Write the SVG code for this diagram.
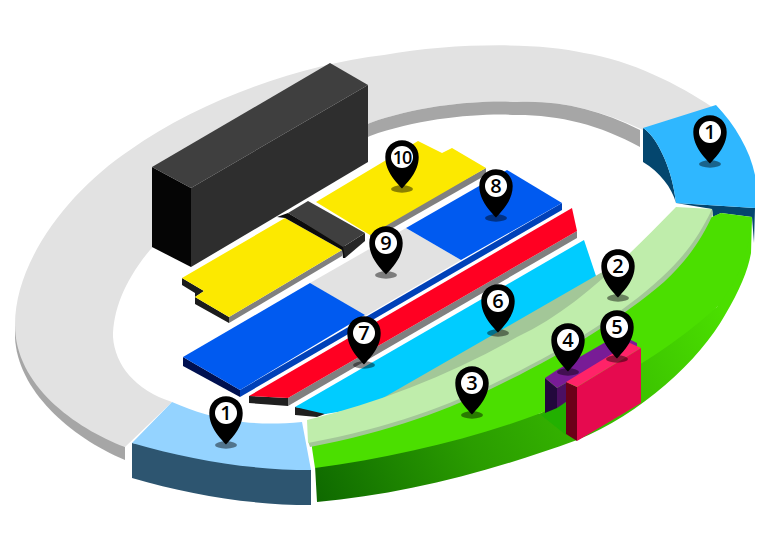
<svg xmlns="http://www.w3.org/2000/svg" width="768" height="555" viewBox="0 0 768 555">
<defs>
<linearGradient id="gs" gradientUnits="userSpaceOnUse" x1="320" y1="500" x2="720" y2="300"><stop offset="0" stop-color="#0f6a00"/><stop offset="0.35" stop-color="#2a9c00"/><stop offset="0.75" stop-color="#3cc400"/><stop offset="1" stop-color="#4bdf00"/></linearGradient>
<g id="pin"><ellipse cx="0" cy="32" rx="11" ry="3.7" fill="#000" fill-opacity="0.45"/><path d="M0,31.5 C-5,26 -16.7,15 -16.7,0 C-16.7,-10 -9,-16.7 0,-16.7 C9,-16.7 16.7,-10 16.7,0 C16.7,15 5,26 0,31.5 Z" fill="#000"/><circle r="11" fill="#fff"/></g>
</defs>
<style>
text{font-family:"Open Sans","Noto Sans","DejaVu Sans",sans-serif;font-weight:600;font-size:20px;text-anchor:middle;fill:#000}
</style>
<g id="ring">
<path d="M15,325 L15,337 C17,390 70,437 125,460 L125,447 Z" fill="#a6a6a6"/>
<path d="M125,447 C75,428 15,385 15,325 C15,260 70,190 130,150 C200,100 300,65 384,55 C450,43 540,42 584,53 C630,60 680,85 712,107 L643,130 C600,110 560,100 517,102 C480,100 420,105 370,123 C280,150 200,200 150,250 C125,280 113,310 113,337 C115,365 135,390 172,402 Z" fill="#e2e2e2"/>
<path d="M640,130 C600,110 560,100 517,102 C480,100 420,105 370,123 L330,140 L330,155 L370,136 C420,118 480,113 517,115 C560,115 600,125 640,147 Z" fill="#a6a6a6"/>
</g>
<g id="black-block">
<path d="M152,167 L191,188 L191,267 L152,247 Z" fill="#050505"/>
<path d="M191,188 L368,85 L368,162 L191,267 Z" fill="#2e2e2e"/>
<path d="M330,63 L368,85 L191,188 L152,167 Z" fill="#3f3f3f"/>
</g>
<g id="zone-10">
<path d="M486,168 L486,175 L370,241 L370,232 Z" fill="#808080"/>
<path d="M316,202 L418,141 L442,153 L452,148 L486,168 L370,235 Z" fill="#fce900"/>
</g>
<g id="zone-yellow-left">
<path d="M182,278 L182,285 L195,293 L195,304 L229,323 L229,317 L195,297 L204,291 Z" fill="#1c1c1c"/>
<path d="M229,317 L342,250 L342,256 L229,323 Z" fill="#808080"/>
<path d="M182,278 L285,218 L342,250 L229,317 L195,297 L204,291 Z" fill="#fce900"/>
</g>
<g id="black-bridge">
<path d="M277,217 L288,213 L345,246 L345,258 L343,258 L342,250 L285,218 Z" fill="#0c0c0c"/>
<path d="M343,247 L365,233 L365,241 L345,258 Z" fill="#262626"/>
<path d="M288,213 L308,201 L365,233 L343,247 Z" fill="#3f3f3f"/>
</g>
<g id="zone-9"><path d="M310,283 L406,228 L461,260 L365,316 Z" fill="#e2e2e2"/></g>
<g id="zone-8-7">
<path d="M183,357 L183,366 L240,397 L240,390 Z" fill="#001050"/>
<path d="M240,390 L562,203 L562,210 L240,397 Z" fill="#0041b8"/>
<path d="M183,357 L310,283 L365,315 L240,390 Z" fill="#005af0"/>
<path d="M406,228 L507,170 L562,203 L461,260 Z" fill="#005af0"/>
</g>
<g id="zone-7-red">
<path d="M249,396 L288,398 L288,406 L249,403 Z" fill="#1f1f1f"/>
<path d="M288,398 L577,231 L577,238 L288,406 Z" fill="#808080"/>
<path d="M249,396 L572,208 L577,231 L288,398 Z" fill="#ff0022"/>
</g>
<g id="zone-6-cyan">
<path d="M295,407 L295,415 L317,417 L330,412 Z" fill="#1f1f1f"/>
<path d="M295,407 L584,240 L598,282 L590,300 L517,345 L383,405 L325,414 Z" fill="#00ccff"/>
</g>
<g id="block-right">
<path d="M643,128 L643,162 C660,172 672,188 676,203 C672,165 655,135 643,128 Z" fill="#04466e"/>
<path d="M676,203 L712,209 L713,217 L721,213 L752,217 L754,243 L755,208 Z" fill="#04466e"/>
<path d="M643,128 L716,105 C735,125 750,150 755,175 L755,208 L676,203 C672,165 655,135 643,128 Z" fill="#2fb7ff"/>
</g>
<g id="zone-3-green">
<path d="M315,466 L317,502 C400,495 490,472 577,440 C640,415 700,360 725,315 C740,290 748,270 751,253 L752,217 L717,307 L541,413 Z" fill="url(#gs)"/>
<path d="M312,448 L315,468 C390,458 470,440 541,413 C600,392 670,350 717,307 C735,285 748,260 752,217 L721,213 L700,222 L640,280 L517,360 L400,415 L312,440 Z" fill="#4bdf00"/>
</g>
<g id="zone-2">
<path d="M308,441 L310,447 C390,432 450,409 501,384 C565,353 622,318 664,282 C688,260 703,237 713,214 L712,209 Z" fill="#a3c798"/>
<path d="M676,207 L712,209 C700,235 685,256 661,278 C622,314 565,349 501,380 C450,405 390,428 308,443 L307,420 C380,402 450,375 517,337 C575,310 622,262 676,207 Z" fill="#bfedab"/>
</g>
<g id="block-left">
<path d="M132,443 L132,478 C190,495 250,505 311,505 L311,470 Z" fill="#2d5570"/>
<path d="M172,402 L132,443 C190,460 250,470 311,470 L302,422 C280,424 260,424 243,422 C215,418 195,412 172,402 Z" fill="#94d3ff"/>
</g>
<g id="zone-4">
<path d="M541,415 L545,413 L566,402 L566,435 Z" fill="#22b000"/>
<path d="M545,378 L557,388 L557,408 L545,413 Z" fill="#22083c"/>
<path d="M557,388 L566,383 L566,402 L557,408 Z" fill="#4b0f62"/>
<path d="M545,378 L557,370 L604,343 L631,340 L637,343 L637,350 L566,383 L557,388 Z" fill="#781c96"/>
</g>
<g id="zone-5">
<path d="M566,382 L577,387 L577,441 L566,434 Z" fill="#6b0018"/>
<path d="M577,387 L641,348 L641,403 L577,441 Z" fill="#e60a4f"/>
<path d="M566,382 L630,343 L641,348 L577,387 Z" fill="#ff2368"/>
</g>
<g id="pins">
<g id="pin-1a" transform="translate(710,132)"><use href="#pin"/><text y="7">1</text></g>
<g id="pin-1b" transform="translate(226,413)"><use href="#pin"/><text y="7">1</text></g>
<g id="pin-2" transform="translate(618,266)"><use href="#pin"/><text y="7">2</text></g>
<g id="pin-3" transform="translate(472,383)"><use href="#pin"/><text y="7">3</text></g>
<g id="pin-4" transform="translate(568,340)"><use href="#pin"/><text y="7">4</text></g>
<g id="pin-5" transform="translate(617,327)"><use href="#pin"/><text y="7">5</text></g>
<g id="pin-6" transform="translate(498,301)"><use href="#pin"/><text y="7">6</text></g>
<g id="pin-7" transform="translate(364,333)"><use href="#pin"/><text y="7">7</text></g>
<g id="pin-8" transform="translate(496,186)"><use href="#pin"/><text y="7">8</text></g>
<g id="pin-9" transform="translate(386,243)"><use href="#pin"/><text y="7">9</text></g>
<g id="pin-10" transform="translate(402,157)"><use href="#pin"/><text y="6.5" style="font-size:18px;letter-spacing:-1px">10</text></g>
</g>
</svg>
